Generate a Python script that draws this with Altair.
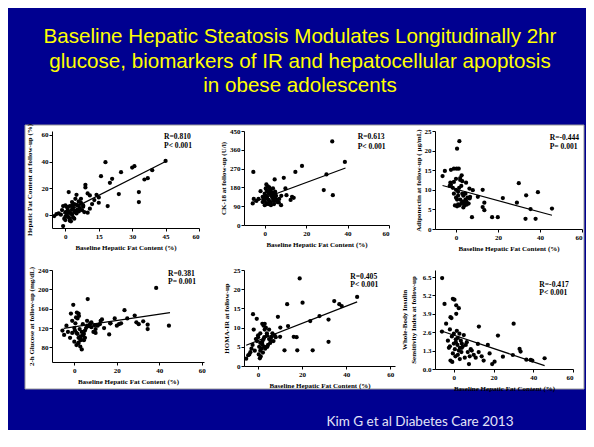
import altair as alt
import pandas as pd

BLUE = "#000090"
SERIF = "Liberation Serif"

title_lines = [
    "Baseline Hepatic Steatosis Modulates Longitudinally 2hr",
    "glucose, biomarkers of IR and  hepatocellular apoptosis",
    "in obese adolescents",
]
citation = "Kim G et al Diabetes Care 2013"
x_title = "Baseline Hepatic Fat Content (%)"

# Panel 1: Hepatic fat content at follow-up
p1_x = [45, 39, 37, 35.5, 31, 30, 25, 21, 20, 24,
        18, 16, 33, 33, 19, 14, 15, 15, 13, 10,
        11, 12, 9, 8, 7, 6, 1.5, -1, -3, -2,
        -1.5, -1, 0, 0.5, 1, 2, 3, 4, 5, 6,
        7, 8, 0, 0.5, 1, 1.5, 2, 2.5, 3, 3.5,
        4, 4.5, 5, 5.5, 6, 6.5, 7.5, 8.5, 10, 11,
        1, 2, 3, -0.5, 0, 1.5, 3, 5, 4.5, 9,
        2.5, 3.5, -4, -5, 0, 2, 4, 6]
p1_y = [40.5, 33.5, 27.5, 26.5, 36.5, 35.5, 32, 27, 24, 15.5,
        39.5, 29, 17, 9.5, 6.5, 15, 13, 9, 11, 16,
        14.5, 8, 20.5, 7, 12, 10, 17, -8.5, 1, 0,
        3.5, 6.5, 7, 6, 5, 6.5, 7, 8, 7.5, 7,
        9, 6, 2, 0, -1, -2, -3, 1, 0, -2,
        2, 3, 1, 4, 3, 5, 3.5, 2, 1.5, 4.5,
        3, 2, 4, -3, -1.5, 1.5, 9.5, 15, 12, 22.5,
        -5, 5.5, 0.5, -1, -4, -4.5, -3, 2.5]
p1_fit_x = [-1, 45]
p1_fit_y = [1, 40]

# Panel 2: CK-18
p2_x = [32.6, 38.7, 29.8, 18, 14.8, 28.5, 32.9, 9.2, 4.8, -5.5,
        10, 10.5, 13.2, 14, 0.8, -5.8, -5.3, -2, 7.9, 6.8,
        0, 0.5, 1, 1.5, 2, 2.5, 3, 3.5, 4, 4.5,
        5, 5.5, 6, 0, 1, 2, 3, 4, 5, -1,
        -0.5, 0.5, 1.5, 2.5, 3.5, 4.5, 6, 7, 8, -3,
        -1, 0, 1, 2, 3, 2, 1, 0.3, 12.5, 4,
        -4, 3, 5, 1.2, 2.2]
p2_y = [400, 302, 242, 283, 254, 167, 143, 226, 218, 254,
        175, 143, 135, 130, 194, 103, 125, 162, 95, 108,
        150, 140, 130, 160, 120, 110, 145, 135, 125, 115,
        150, 140, 120, 115, 105, 100, 170, 175, 130, 135,
        120, 175, 185, 165, 155, 100, 110, 125, 140, 125,
        110, 95, 100, 105, 110, 150, 165, 125, 120, 140,
        115, 95, 160, 135, 180]
p2_fit_x = [-5.8, 39]
p2_fit_y = [108, 273]

# Panel 3: Adiponectin
p3_x = [1.6, 0.5, -1, 0.3, 1.3, -2.4, -5.3, -6.4, 2.7, 0,
        -2.7, -2.4, 4.8, 6.4, 8, 12.7, 6.7, 10.4, 13.5, 12.7,
        13.5, 7.6, 17.2, 19.9, 29.9, 22.3, 29, 33.4, 39, 35.5,
        33.1, 37.9, 45.7, -3, -1.5, -1, 0, 0.5, 1, 1.5,
        2, 2.5, 3, 3.5, 4, 4.5, 5, 5.5, 6, -0.5,
        0.5, 1.5, 2.5, 3.5, 4.5, 0, 1, 2, 3, 4,
        -1, 2, 5, 6.5, 1, 3]
p3_y = [22.4, 20.5, 15.4, 15.4, 15.4, 15.1, 14.8, 13.5, 13.7, 12.8,
        11.8, 11.3, 11.8, 10.3, 9.9, 10, 8.2, 8.2, 6.7, 5.6,
        4.8, 3, 3, 3, 11.7, 7.9, 6.7, 8.6, 9.4, 5.1,
        2.6, 2.6, 5.2, 11, 10.5, 9, 8, 7.5, 9.5, 6,
        12.5, 6.5, 7, 8.5, 6, 9, 7, 8, 6.5, 6,
        5.8, 10.5, 11, 5.5, 7.5, 10, 8.5, 7.5, 9, 6.8,
        12, 13, 6.2, 7.8, 6.3, 12.2]
p3_fit_x = [-6.4, 45.7]
p3_fit_y = [11.1, 3.5]

# Panel 4: 2-h glucose
p4_x = [38.5, 44.5, 34.5, 23.6, 28.4, 29.2, 24.9, 32.4, 34.5, 30.3,
        22, 16.4, 6.3, -0.5, -1.6, 7.5, 12.4, 13, 16.9, 3.5,
        -3.7, -5.6, -4.8, 0, 1, 2, 3, 4, 5, 6,
        0.5, 1.5, 2.5, 3.5, 4.5, 5.5, 7, 8, 9, 10,
        11, -1, -2, 0, 1, 2, 3, 1.2, 2.2, 0.8,
        1.8, 2.8, 4, 6, 8, 10, 12, 14, 17, 19,
        20, 21, -3, -1, 0.3, 3, 5, 2, 1.5, 4.5,
        6.5, 9.5]
p4_y = [203, 125, 127, 157, 146, 132, 140, 134, 118, 128,
        130, 107, 180, 168, 150, 130, 135, 138, 130, 76,
        125, 115, 106, 120, 110, 100, 95, 105, 115, 125,
        130, 140, 118, 112, 108, 120, 125, 132, 112, 118,
        125, 110, 100, 92, 85, 90, 98, 152, 145, 142,
        88, 82, 128, 135, 122, 110, 128, 120, 130, 140,
        125, 128, 112, 135, 115, 103, 100, 150, 108, 95,
        124, 126]
p4_fit_x = [-5, 45]
p4_fit_y = [119.5, 152]

# Panel 5: HOMA-IR
p5_x = [18.9, 20.2, 13.2, 9, 13.6, 10.1, 23.7, 27.9, 34.6, 36.9,
        38, 45, 32, 32, 24.8, 17.8, 12, 16.2, 17.5, 10,
        -2.3, -0.6, 1.9, -5.4, -4.5, -3.5, -3, -2, -1, 0,
        1, 2, 3, 4, 5, 6, 7, 8, 0.5, 1.5,
        2.5, 3.5, 4.5, 5.5, -1.5, -0.5, 0.3, 1.2, 2.2, 3.2,
        4.2, 6.5, -2.5, 0, 1, 2, 3, 4, 5, 0.8,
        1.8, 2.8, 6, -4, 1, 2.5, 7.5, 3]
p5_y = [22.8, 16.5, 16.1, 12.8, 10.4, 10, 11.7, 13, 16.9, 16.1,
        15.6, 18, 12.1, 6.3, 4.1, 4.1, 4.1, 7.6, 7.5, 7.6,
        13.5, 12.3, 11, 1.9, 2.8, 3.6, 4.5, 9.5, 7, 8,
        6, 5.5, 9.5, 8.5, 7, 7.5, 6.5, 7.5, 5, 4.5,
        7, 10, 5.5, 6, 4, 6.5, 3, 2.5, 3.5, 4.5,
        5, 8.5, 5.5, 7.5, 8.5, 6.5, 5, 8, 9.5, 2,
        6, 7.5, 6.5, 3, 4, 10.5, 8, 11]
p5_fit_x = [-5.4, 45]
p5_fit_y = [5.4, 16.7]

# Panel 6: Whole-body insulin sensitivity index
p6_x = [-5.9, -4.7, -0.5, 0.3, 1.2, 2.5, -1.7, -1.2, 1.2, -3.9,
        12.6, 30.1, 22.2, -6, 12.1, 17.1, 12.5, 18, 7.6, 19.3,
        20.5, 33.1, 33.6, 29.7, 24.7, 36.5, 38.7, 39.5, 45.7, -1.7,
        -0.8, -3, -2, -1, 0, 1, 2, 3, 4, 5,
        6, 7, 8, 9, 10, 0.5, 1.5, 2.5, 3.5, 4.5,
        -2.5, -0.5, 0.8, 1.8, 2.8, 3.8, 5.5, 6.5, 11, 14,
        -2, 0, 2, 4, 1, 3, 8.5, 15]
p6_y = [6.43, 4.6, 4.96, 4.9, 4.5, 4.3, 3.66, 3.6, 3.9, 3.2,
        3.0, 3.2, 2.36, 2.65, 1.77, 1.7, 1.2, 1.1, 0.35, 0.35,
        0.52, 1.42, 1.23, 0.99, 0.87, 0.66, 0.64, 0.6, 0.76, 0.6,
        0.5, 2.0, 1.6, 2.3, 2.5, 1.9, 2.2, 1.5, 1.8, 2.4,
        1.7, 1.2, 0.9, 1.3, 1.0, 1.4, 2.7, 1.3, 2.0, 1.6,
        1.5, 1.1, 0.9, 1.7, 2.5, 1.2, 0.8, 1.9, 0.8, 0.9,
        2.8, 1.8, 1.0, 1.5, 2.1, 0.7, 1.4, 0.6]
p6_fit_x = [-5.5, 45.7]
p6_fit_y = [2.65, 0.24]

one = pd.DataFrame({"a": [0]})


def label(text, x, y, size=7.6):
    return alt.Chart(one).mark_text(
        text=text, align="left", baseline="middle", font=SERIF,
        fontWeight="bold", fontSize=size, color="black"
    ).encode(x=alt.value(x), y=alt.value(y))


def panel(xs, ys, fx, fy, xdom, ydom, xticks, yticks, ytitle, w, h,
          r_txt, p_txt, rx, ry, py, tpad, yfmt="d", extra=None):
    df = pd.DataFrame({"x": xs, "y": ys})
    ldf = pd.DataFrame({"x": fx, "y": fy})
    xenc = alt.X("x:Q", scale=alt.Scale(domain=xdom, nice=False, zero=False),
                 axis=alt.Axis(values=xticks, title=x_title, format="d",
                               zindex=2, labelOverlap=False))
    yenc = alt.Y("y:Q", scale=alt.Scale(domain=ydom, nice=False, zero=False),
                 axis=alt.Axis(values=yticks, title=ytitle, format=yfmt,
                               zindex=2, labelOverlap=False, titlePadding=tpad))
    pts = alt.Chart(df).mark_circle(size=18, color="black", opacity=1).encode(x=xenc, y=yenc)
    ln = alt.Chart(ldf).mark_line(color="black", strokeWidth=1.2).encode(x=xenc, y=yenc)
    layers = (extra or []) + [pts, ln, label(r_txt, rx, ry), label(p_txt, rx, py)]
    return alt.layer(*layers).properties(width=w, height=h)


# background pieces drawn from the first panel (origin at its plot area)
bg_blue = alt.Chart(one).mark_rect(color=BLUE).encode(
    x=alt.value(-44), x2=alt.value(534), y=alt.value(-123), y2=alt.value(299))
bg_white = alt.Chart(one).mark_rect(color="white", stroke="#9a9a9a", strokeWidth=1).encode(
    x=alt.value(-27), x2=alt.value(532), y=alt.value(-6), y2=alt.value(258))
titles = [
    alt.Chart(one).mark_text(text=t, align="center", baseline="middle",
                             font="Liberation Sans", fontSize=20.6, color="#FFFF00")
    .encode(x=alt.value(248), y=alt.value(yy))
    for t, yy in zip(title_lines, [-94, -69, -45])
]
cite = alt.Chart(one).mark_text(text=citation, align="center", baseline="middle",
                                font="Lato", fontSize=13.5, color="#E4E4F8").encode(
    x=alt.value(368), y=alt.value(291))

p1 = panel(p1_x, p1_y, p1_fit_x, p1_fit_y, [-6, 60], [-10, 63], [0, 15, 30, 45, 60],
           [0, 20, 40, 60], "Hepatic Fat Content at follow-up (%)", 147, 97,
           "R=0.810", "P< 0.001", 112, 6.3, 14.7, 9,
           extra=[bg_blue, bg_white] + titles + [cite])
p2 = panel(p2_x, p2_y, p2_fit_x, p2_fit_y, [-10, 60], [0, 450], [0, 20, 40, 60],
           [0, 90, 180, 270, 360, 450], "CK-18 at follow-up (U/l)", 145, 94,
           "R=0.613", "P< 0.001", 113.7, 6.3, 16.3, 3)
p3 = panel(p3_x, p3_y, p3_fit_x, p3_fit_y, [-10, 60], [0, 25], [0, 20, 40, 60],
           [0, 5, 10, 15, 20, 25], "Adiponectin at follow-up ( μg/mL)", 147, 98,
           "R=-0.444", "P= 0.001", 114.7, 7.3, 16.3, 3)
p4 = panel(p4_x, p4_y, p4_fit_x, p4_fit_y, [-10.5, 61], [50, 240], [0, 20, 40, 60],
           [80, 120, 160, 200, 240], "2-h Glucose at follow-up (mg/dL)", 152, 92,
           "R=0.381", "P= 0.001", 116, 4, 11.9, 3)
p5 = panel(p5_x, p5_y, p5_fit_x, p5_fit_y, [-6.4, 62.2], [0, 25], [0, 20, 40, 60],
           [0, 5, 10, 15, 20, 25], "HOMA-IR at follow-up", 151, 96,
           "R=0.405", "P< 0.001", 106.3, 6.7, 15, 4)
p6 = panel(p6_x, p6_y, p6_fit_x, p6_fit_y, [-9.5, 60], [0, 7], [0, 20, 40, 60],
           [0, 1.3, 2.6, 3.9, 5.2, 6.5],
           ["Whole-Body Insulin", "Sensitivity Index at follow-up"], 138, 99,
           "R=-0.417", "P< 0.001", 104.3, 14.5, 22.8, 6, yfmt=".1f")

chart = alt.concat(
    p1, p2, p3, p4, p5, p6, columns=3, bounds="flush",
    align=alt.RowColLayoutAlign(row="each", column="none"),
    spacing=alt.RowColnumber(row=41, column=40),
).properties(
    padding=0, background=BLUE
).configure_view(stroke=None).configure_axis(
    grid=False, labelOverlap=False,
    domainColor="black", domainWidth=1, tickColor="black", tickSize=3, tickWidth=1,
    labelFont=SERIF, labelFontWeight="bold", labelFontSize=7, labelColor="black",
    labelPadding=1,
    titleFont=SERIF, titleFontWeight="bold", titleFontSize=7, titleColor="black",
    titlePadding=4,
)

chart.save("out.html", embed_options={"renderer": "svg", "actions": False})
